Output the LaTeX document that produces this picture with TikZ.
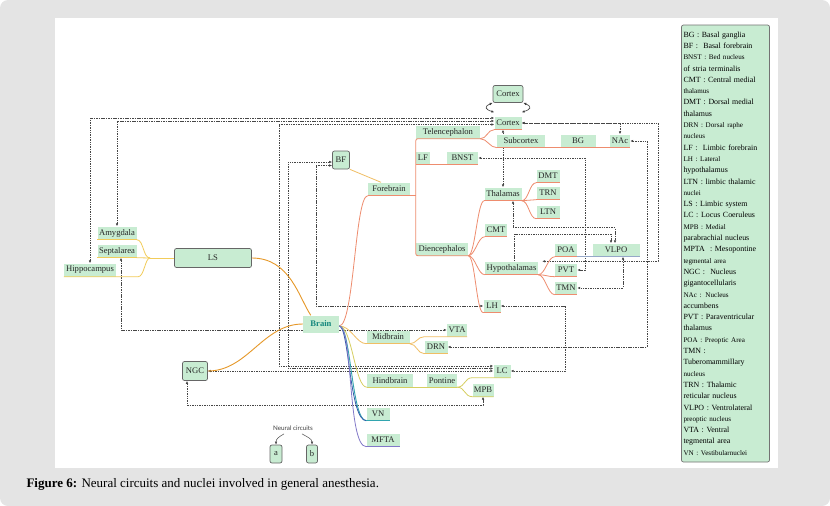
\documentclass[tikz,border=0pt]{standalone}
\usepackage{fontspec}
\setmainfont{Liberation Serif}
\newfontfamily\keysans{Lato}
\usetikzlibrary{arrows.meta,calc}
\definecolor{nodegreen}{RGB}{200,236,210}
\definecolor{panelgrey}{RGB}{228,228,228}
\definecolor{forered}{RGB}{238,140,110}
\definecolor{limbicyellow}{RGB}{242,204,90}
\definecolor{brainorange}{RGB}{230,152,40}
\definecolor{midyellow}{RGB}{240,190,100}
\definecolor{hindolive}{RGB}{214,206,96}
\definecolor{vnteal}{RGB}{50,165,175}
\definecolor{vnblue}{RGB}{50,90,170}
\definecolor{mftaviolet}{RGB}{130,120,200}
\definecolor{vlpogrey}{RGB}{150,168,200}
\definecolor{brainteal}{RGB}{20,135,125}
\definecolor{linkgrey}{RGB}{70,70,70}
\pgfdeclarelayer{paper}
\pgfdeclarelayer{wires}
\pgfsetlayers{paper,wires,main}
\tikzset{
  >={Latex[length=3pt,width=2.6pt]},
  nd/.style={fill=nodegreen, text=black!85, font=\fontsize{8.6}{10}\selectfont, inner sep=1pt, minimum height=13pt},
  boxnd/.style={nd, draw=black!60, line width=0.7pt, rounded corners=2pt},
  link/.style={linkgrey, line width=0.6pt, dash pattern=on 1.5pt off 0.9pt},
  fbr/.style={forered, line width=0.8pt},
  lsline/.style={limbicyellow, line width=0.8pt},
  feed/.style={brainorange, line width=0.9pt},
  midline/.style={midyellow, line width=0.8pt},
  hindline/.style={hindolive, line width=0.8pt},
  vnline/.style={vnteal, line width=0.9pt},
  mftaline/.style={mftaviolet, line width=0.8pt},
  legendbox/.style={draw=black!55, fill=nodegreen, rounded corners=2pt, line width=0.7pt, minimum width=87pt, minimum height=437pt, text width=84pt, align=left, inner sep=2pt, font=\fontsize{7.9}{11.3}\selectfont}
}
\newcommand{\tn}[5]{\node[nd,minimum width=#4] (#1) at (#2,#3) {#5};}
\newcommand{\bn}[6]{\node[boxnd,minimum width=#4,minimum height=#5] (#1) at (#2,#3) {#6};}
\newcommand{\uline}[2]{\draw[#1] (#2.south west) -- (#2.south east);}
\newcommand{\twig}[3]{\draw[#1] (#2) .. controls +(7,0) and +(-7,0) .. (#3);}
\newcommand{\lgs}[1]{{\fontsize{7.1}{11.3}\selectfont #1}}

\begin{document}
\begin{tikzpicture}[x=1pt,y=-1pt]
\useasboundingbox (0,0) rectangle (830,506);
\begin{pgfonlayer}{paper}
  \fill[panelgrey, rounded corners=8pt] (0,0) rectangle (830,506);
  \fill[white] (55,18) rectangle (778,468);
\end{pgfonlayer}

% telencephalon / diencephalon side
\bn{ctop}{508}{94}{30}{17}{Cortex}
\tn{cortex}{508}{123}{27}{Cortex}
\tn{telen}{448}{132}{64}{Telencephalon}
\tn{subc}{521}{141}{48}{Subcortex}
\tn{bg}{578}{141}{35}{BG}
\tn{nac}{620}{141}{20}{NAc}
\tn{lf}{423}{158}{14}{LF}
\tn{bnst}{462.5}{158}{31}{BNST}
\tn{fore}{389}{189}{42}{Forebrain}
\tn{thal}{503}{194}{37}{Thalamas}
\tn{dmt}{548}{176}{23}{DMT}
\tn{trn}{548}{193}{23}{TRN}
\tn{ltn}{548}{212}{23}{LTN}
\tn{cmt}{496}{230}{22}{CMT}
\tn{dien}{442}{249}{52}{Diencephalos}
\tn{hypo}{511.5}{268}{53}{Hypothalamas}
\tn{poa}{566}{250}{22}{POA}
\tn{vlpo}{616}{250}{47}{VLPO}
\tn{pvt}{566}{270}{22}{PVT}
\tn{tmn}{566}{288}{22}{TMN}
\tn{lh}{492}{306}{17}{LH}
\node[nd,minimum width=36pt,minimum height=17pt,text=brainteal] (brain) at (321,324) {\textbf{Brain}};
\tn{vta}{457}{330}{20}{VTA}
\tn{mid}{388}{337}{43}{Midbrain}
\tn{drn}{436}{347}{23}{DRN}
\tn{lc}{502}{371}{17}{LC}
\tn{hind}{390}{380.5}{46}{Hindbrain}
\tn{pont}{442}{380.5}{30}{Pontine}
\tn{mpb}{483}{390}{21}{MPB}
\tn{vn}{378}{414}{23}{VN}
\tn{mfta}{383}{440}{33}{MFTA}
\bn{bf}{341}{160}{17}{18}{BF}

% limbic side
\bn{ls}{213}{258}{77}{19}{LS}
\bn{ngc}{195}{371}{25}{19}{NGC}
\tn{amyg}{117}{233}{39}{Amygdala}
\tn{sept}{117}{251}{39}{Septalarea}
\tn{hippo}{90}{270}{52}{Hippocampus}

% key
\node[font=\keysans\fontsize{6.3}{7}\selectfont, text=black!75] (keylabel) at (293,428) {Neural circuits};
\bn{keya}{276}{454}{12}{18}{a}
\bn{keyb}{312}{454}{11}{18}{b}
\draw[->, black!70, line width=0.5pt] ([xshift=-9]keylabel.south) .. controls +(-5,3) and +(0,-6) .. (keya.north);
\draw[->, black!70, line width=0.5pt] ([xshift=9]keylabel.south) .. controls +(5,3) and +(0,-6) .. (keyb.north);

% legend
\node[legendbox] (legend) at (725.5,243.5) {BG : Basal ganglia\\
BF :\ \ Basal forebrain\\
\lgs{BNST : Bed nucleus}\\
of stria terminalis\\
CMT : Central medial\\
\lgs{thalamus}\\
DMT : Dorsal medial\\
thalamus\\
\lgs{DRN : Dorsal raphe}\\
\lgs{nucleus}\\
LF :\ \ Limbic forebrain\\
\lgs{LH : Lateral}\\
hypothalamus\\
LTN : limbic thalamic\\
\lgs{nuclei}\\
LS : Limbic system\\
LC : Locus Coeruleus\\
\lgs{MPB : Medial}\\
parabrachial nucleus\\
MPTA\ \ : Mesopontine\\
\lgs{tegmental area}\\
NGC :\ \ Nucleus\\
gigantocellularis\\
\lgs{NAc : Nucleus}\\
accumbens\\
PVT : Paraventricular\\
thalamus\\
\lgs{POA : Preoptic Area}\\
TMN :\\
Tuberomammillary\\
\lgs{nucleus}\\
TRN : Thalamic\\
reticular nucleus\\
VLPO : Ventrolateral\\
\lgs{preoptic nucleus}\\
VTA : Ventral\\
tegmental area\\
\lgs{VN : Vestibularnuclei}};

\node[anchor=west, font=\fontsize{13}{15}\selectfont] (caption) at (23,484) {\textbf{Figure 6:} Neural circuits and nuclei involved in general anesthesia.};

% tree branches
\draw[<->, black!75, line width=0.6pt] (ctop.south west) .. controls +(-9,4) and +(-9,-3) .. ([yshift=4]cortex.north west);
\draw[<->, black!75, line width=0.6pt] (ctop.south east) .. controls +(9,4) and +(9,-3) .. ([yshift=4]cortex.north east);
\draw[fbr] (fore.south west) -- (fore.south west -| telen.south west);
\draw[fbr, rounded corners=2pt] (telen.south east) -- (telen.south west) -- (dien.south west) -- (dien.south east);
\draw[fbr] (lf.south west) -- (bnst.south east);
\twig{fbr}{telen.south east}{cortex.south west}
\twig{fbr}{telen.south east}{subc.south west}
\uline{fbr}{cortex}
\draw[fbr] (subc.south west) -- (nac.south east);
\twig{fbr}{dien.south east}{thal.south west}
\twig{fbr}{dien.south east}{cmt.south west}
\twig{fbr}{dien.south east}{hypo.south west}
\twig{fbr}{dien.south east}{lh.south west}
\uline{fbr}{thal} \uline{fbr}{cmt} \uline{fbr}{hypo} \uline{fbr}{lh}
\twig{fbr}{thal.south east}{dmt.south west}
\twig{fbr}{thal.south east}{trn.south west}
\twig{fbr}{thal.south east}{ltn.south west}
\uline{fbr}{dmt} \uline{fbr}{trn} \uline{fbr}{ltn}
\twig{fbr}{hypo.south east}{poa.south west}
\twig{fbr}{hypo.south east}{pvt.south west}
\twig{fbr}{hypo.south east}{tmn.south west}
\uline{fbr}{poa} \uline{fbr}{pvt} \uline{fbr}{tmn}
\draw[vlpogrey, line width=0.8pt] (poa.south east) -- (vlpo.south east);

\coordinate (bout) at ([yshift=-2]brain.east);
\draw[fbr] (bout) .. controls +(15,0) and +(-13,0) .. (fore.south west);
\draw[midline] (bout) .. controls +(12,0) and +(-10,0) .. (mid.south west);
\uline{midline}{mid}
\draw[midline] (mid.south east) .. controls +(7,0) and +(-7,0) .. (vta.south -| drn.south west) -- (vta.south east);
\twig{midline}{mid.south east}{drn.south west}
\uline{midline}{drn}
\draw[hindline] (bout) .. controls +(13,0) and +(-12,0) .. (hind.south west);
\draw[hindline] (hind.south west) -- (pont.south east);
\draw[hindline] (pont.south east) .. controls +(8,0) and +(-8,0) .. (mpb.south west |- lc.south) -- (lc.south east);
\draw[hindline] (pont.south east) .. controls +(8,0) and +(-8,0) .. (mpb.south west) -- (mpb.south east);
\draw[vnline] (bout) .. controls +(12,0) and +(-15,0) .. (vn.south west);
\draw[vnblue, line width=0.8pt] (bout) .. controls +(10,0) and +(-17,0) .. (vn.south west);
\uline{vnline}{vn}
\draw[mftaline] (bout) .. controls +(14,0) and +(-19,0) .. (mfta.south west);
\uline{mftaline}{mfta}

\coordinate (lsjoin) at (150,258);
\uline{lsline}{amyg} \uline{lsline}{sept}
\twig{lsline}{amyg.south east}{lsjoin}
\twig{lsline}{sept.south east}{lsjoin}
\draw[lsline] (hippo.south west) -- ([xshift=22]hippo.south east) .. controls +(6,0) and +(-5,0) .. (lsjoin);
\draw[lsline] (lsjoin) -- (ls.west);
\draw[feed] (ls.east) .. controls +(38,0) and +(-12,-18) .. ([xshift=8]brain.north west);
\draw[feed] (ngc.east) .. controls +(40,0) and +(-40,0) .. (brain.west);
\draw[midyellow, line width=0.8pt] (bf.south east) -- ([xshift=-8]fore.north);

% dashed circuits
\begin{pgfonlayer}{wires}
\draw[link,<->] (hippo.north) |- ([yshift=5]cortex.west);
\draw[link,<->] (amyg.north) |- ([yshift=2]cortex.west);
\draw[link,<->] ([yshift=-1.5]cortex.west) -| (279,366) -- ([yshift=5]lc.west);
\draw[link,<->] ([yshift=-2]bf.west) -| (288,368.5) -- ([yshift=2.5]lc.west);
\draw[link,<->] ([yshift=-5.5]bf.west) -| (316,306) -- (lh.west);
\draw[link,<->] (ngc.east) -- (lc.west);
\draw[link,<->] ([xshift=4]sept.south) |- (vta.west);
\draw[link,<->] ([xshift=-8]ngc.south) -- ++(0,24) -| (mpb.south);
\draw[link,<->] (thal.north) -- (thal.north |- cortex.south);
\draw[link,<->] (cortex.east) -| (nac.north);
\draw[link,<->] ([xshift=4]hypo.north east) -| (658,123) -- (cortex.east);
\draw[link,<->] (nac.east) -| (647,347) -- (drn.east);
\draw[link,<->] (bnst.east) -| (585,270) -- (pvt.east);
\draw[link,<->] ([xshift=10]thal.south) -- ++(0,27) -| ([xshift=-1]vlpo.north);
\draw[link,->] ([xshift=3]hypo.north) -- ++(0,-27) -| ([xshift=-5]vlpo.north);
\draw[link,<->] ([xshift=7]vlpo.south) |- (tmn.east);
\draw[link,<->] (lh.east) -| ([xshift=55]lc.east) -- (lc.east);
\end{pgfonlayer}
\end{tikzpicture}
\end{document}
